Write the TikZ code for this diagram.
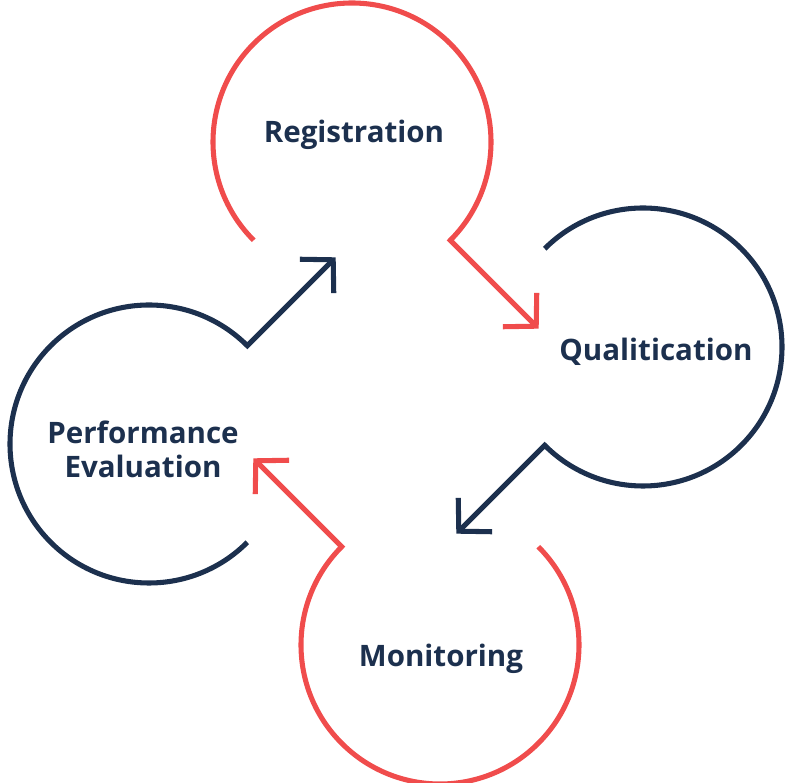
\documentclass[tikz,border=0pt]{standalone}
\usepackage{fontspec}
\setmainfont{Open Sans}
\usetikzlibrary{calc,arrows.meta}
\definecolor{cRed}{RGB}{240,76,76}
\definecolor{cNavy}{RGB}{28,48,78}
\tikzset{
  ring/.style={line width=3.6pt,line join=miter,
    -{Straight Barb[length=0.58cm,width=1.2cm,line join=miter]}},
  label/.style={font=\fontsize{21}{24}\selectfont\bfseries,text=cNavy,align=center},
}

\begin{document}
\begin{tikzpicture}[x=0.025cm,y=0.025cm]
\useasboundingbox (0,0) rectangle (791,783);
\coordinate (regc) at (352,641);
\coordinate (qualc) at (643,436);
\coordinate (monc) at (440,138);
\coordinate (perfc) at (149,339);
\coordinate (reg-in) at ($(regc)+(225:139)$);
\coordinate (reg-tip) at ($(regc)+(-45:264)$);
\coordinate (qual-in) at ($(qualc)+(135:139)$);
\coordinate (qual-tip) at ($(qualc)+(225:264)$);
\coordinate (mon-in) at ($(monc)+(45:139)$);
\coordinate (mon-tip) at ($(monc)+(135:264)$);
\coordinate (perf-in) at ($(perfc)+(-45:139)$);
\coordinate (perf-tip) at ($(perfc)+(45:264)$);
\node[label] (reg) at (354,648) {Registration};
\node[label] (qual) at (656,431) {Qualitication};
\node[label] (mon) at (441,124) {Monitoring};
\node[label] (perf) at (143,334) {Performance\\Evaluation};
% open circles, each one running out into an arrow
\draw[ring,cRed] (reg-in) arc[start angle=225,end angle=-45,radius=139] -- (reg-tip);
\draw[ring,cNavy] (qual-in) arc[start angle=135,end angle=-135,radius=139] -- (qual-tip);
\draw[ring,cRed] (mon-in) arc[start angle=45,end angle=-225,radius=139] -- (mon-tip);
\draw[ring,cNavy] (perf-in) arc[start angle=-45,end angle=-315,radius=139] -- (perf-tip);
\end{tikzpicture}
\end{document}
